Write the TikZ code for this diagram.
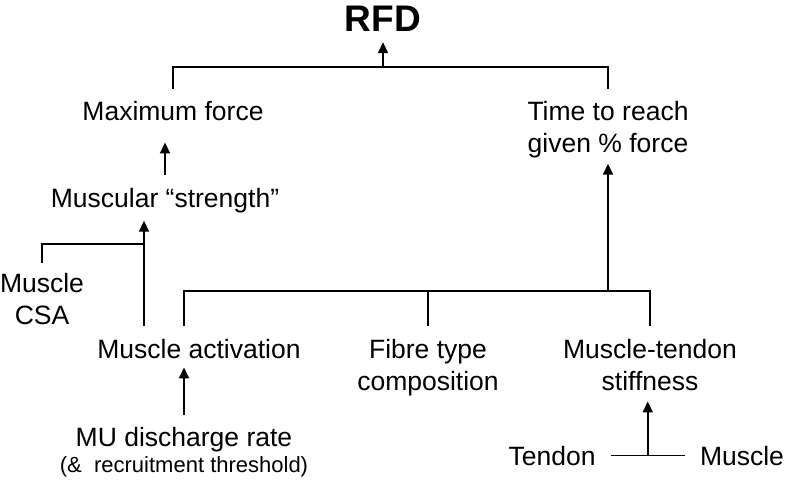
\documentclass[tikz,border=0pt]{standalone}
\usepackage{fontspec}
\setmainfont{Liberation Sans}
\usetikzlibrary{arrows.meta,calc}
\tikzset{
  lbl/.style={font=\fontsize{26.5}{32}\selectfont, inner sep=0pt, align=center, anchor=base},
  conn/.style={line width=1.8pt},
  arr/.style={conn, -{Triangle[length=11pt,width=10pt]}}
}
\begin{document}
\begin{tikzpicture}[x=1pt,y=-1pt]
\path[use as bounding box] (0,0) rectangle (786,479);
% nodes (multi-line nodes: base = last line's baseline)
\node[lbl, font=\fontsize{37}{40}\selectfont\bfseries] (rfd) at (383,31) {RFD};
\node[lbl] (maxf) at (173,120) {Maximum force};
\node[lbl] (time) at (608,152) {Time to reach\\given \% force};
\node[lbl] (str) at (165,207) {Muscular “strength”};
\node[lbl] (csa) at (42,324) {Muscle\\CSA};
\node[lbl] (act) at (199,358) {Muscle activation};
\node[lbl] (fib) at (428,390) {Fibre type\\composition};
\node[lbl] (mts) at (650,390) {Muscle-tendon\\stiffness};
\node[lbl] (mu) at (184,472) {MU discharge rate\\[-6pt]{\fontsize{22}{24}\selectfont (\&\ \ recruitment threshold)}};
\node[lbl] (ten) at (552,465) {Tendon};
\node[lbl] (mus) at (742,465) {Muscle};
% junctions
\coordinate (b1) at (383,67);
\coordinate (j2) at (144,244);
\coordinate (lb) at (184,291);
\coordinate (mb) at (428,291);
\coordinate (rb) at (650,291);
\coordinate (j3) at (608,291);
\coordinate (j4) at ($(ten.east)!0.5!(mus.west)$);
% top bracket
\draw[conn] ($(maxf.north)+(0,-12)$) |- (b1) -| ($(time.north)+(0,-12)$);
\draw[arr] (b1) -- ($(rfd.south)+(0,11)$);
% strength -> max force
\draw[arr] ($(str.north)+(0,-13)$) -- ($(str.north |- maxf.south)+(0,22)$);
% activation -> strength, with CSA
\draw[arr] ($(j2 |- act.north)+(0,-13)$) -- ($(j2 |- str.south)+(0,8)$);
\draw[conn] ($(csa.north)+(0,-10)$) |- (j2);
% lower bracket
\draw[conn] ($(lb |- act.north)+(0,-13)$) -- (lb) -- (rb) -- ($(rb |- mts.north)+(0,-13)$);
\draw[conn] (mb) -- ($(fib.north)+(0,-13)$);
\draw[arr] (j3) -- ($(time.south)+(0,6)$);
% MU -> activation
\draw[arr] ($(mu.north)+(0,-12)$) -- ($(mu.north |- act.south)+(0,9)$);
% tendon / muscle -> stiffness
\draw[conn] ($(ten.east)+(15,0)$) -- ($(mus.west)+(-15,0)$);
\draw[arr] (j4) -- ($(j4 |- mts.south)+(0,11)$);
\end{tikzpicture}
\end{document}
